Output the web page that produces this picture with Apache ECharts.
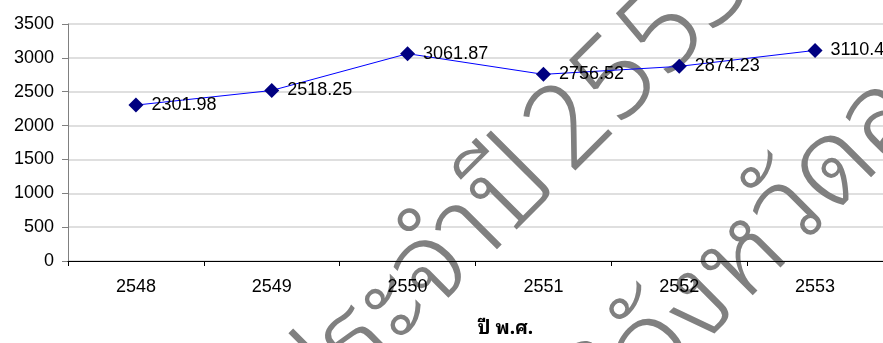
<!DOCTYPE html>
<html>
<head>
<meta charset="utf-8">
<script src="https://cdn.jsdelivr.net/npm/echarts@6/dist/echarts.min.js"></script>
<style>
  html, body { margin: 0; padding: 0; background: #ffffff; }
  #chart { width: 883px; height: 343px; }
</style>
</head>
<body>
<div id="chart"></div>
<script>
// Years (Buddhist era) and yearly values
const years = ['2548', '2549', '2550', '2551', '2552', '2553'];
const values = [2301.98, 2518.25, 3061.87, 2756.52, 2874.23, 3110.44];
const yMin = 0;
const yMax = 3500;
const yStep = 500;
const xTitle = 'ปี พ.ศ.';

// Background stamp text
const stampLine1a = 'ข้อมูลประจำปี';
const stampLine1b = '2553';
const stampLine2a = 'สำนักงานสถิติจังหวัด';
const stampLine2b = 'ลพบุรี';

const baseFont = 'Arial, "Liberation Sans", sans-serif';
const thaiFont = '"Noto Sans Thai Looped", "Noto Sans Thai", "Noto Sans", Tahoma, sans-serif';
const stampStyle = { fontSize: 116, fontFamily: thaiFont, fontWeight: 300, fill: '#808080', verticalAlign: 'middle' };
const rot = Math.PI / 4;

const chart = echarts.init(document.getElementById('chart'), null, { renderer: 'canvas' });
chart.setOption({
  animation: false,
  backgroundColor: '#ffffff',
  grid: { left: 68, top: 24, width: 824, height: 239, containLabel: false },
  graphic: [
    { type: 'text', z: 1, x: 538, y: 162, rotation: rot, style: Object.assign({ text: stampLine1a, align: 'right' }, stampStyle), silent: true },
    { type: 'text', z: 1, x: 548, y: 152, rotation: rot, style: Object.assign({ text: stampLine1b, align: 'left' }, stampStyle), silent: true },
    { type: 'text', z: 1, x: 860, y: 142, rotation: rot, style: Object.assign({ text: stampLine2a, align: 'right' }, stampStyle), silent: true },
    { type: 'text', z: 1, x: 860, y: 142, rotation: rot, style: Object.assign({ text: stampLine2b, align: 'left' }, stampStyle), silent: true }
  ],
  xAxis: {
    type: 'category',
    data: years,
    z: 3,
    boundaryGap: true,
    axisLine: { lineStyle: { color: '#000000', width: 1 } },
    axisTick: { show: true, alignWithLabel: false, length: 5, lineStyle: { color: '#000000' } },
    axisLabel: { color: '#000000', fontSize: 18, fontFamily: baseFont, margin: 17 },
    splitLine: { show: false },
    name: xTitle,
    nameLocation: 'middle',
    nameGap: 58,
    nameTextStyle: { color: '#000000', fontSize: 19, fontWeight: 'bold', fontFamily: thaiFont, padding: [0, 0, 0, 60] }
  },
  yAxis: {
    type: 'value',
    min: yMin,
    max: yMax,
    interval: yStep,
    z: 0,
    axisLine: { show: true, lineStyle: { color: '#808080', width: 1 } },
    axisTick: { show: true, inside: false, length: 6, lineStyle: { color: '#808080' } },
    axisLabel: { color: '#000000', fontSize: 18, fontFamily: baseFont, margin: 14, formatter: v => String(v) },
    splitLine: { show: true, lineStyle: { color: '#d4d4d4', width: 1.5 } }
  },
  series: [{
    type: 'line',
    data: values,
    z: 5,
    symbol: 'diamond',
    symbolSize: 15,
    itemStyle: { color: '#000080' },
    lineStyle: { color: '#0000ff', width: 1 },
    label: {
      show: true,
      position: 'right',
      distance: 8,
      color: '#000000',
      fontSize: 18,
      fontFamily: baseFont,
      formatter: p => p.value.toFixed(2)
    }
  }]
});
</script>
</body>
</html>
